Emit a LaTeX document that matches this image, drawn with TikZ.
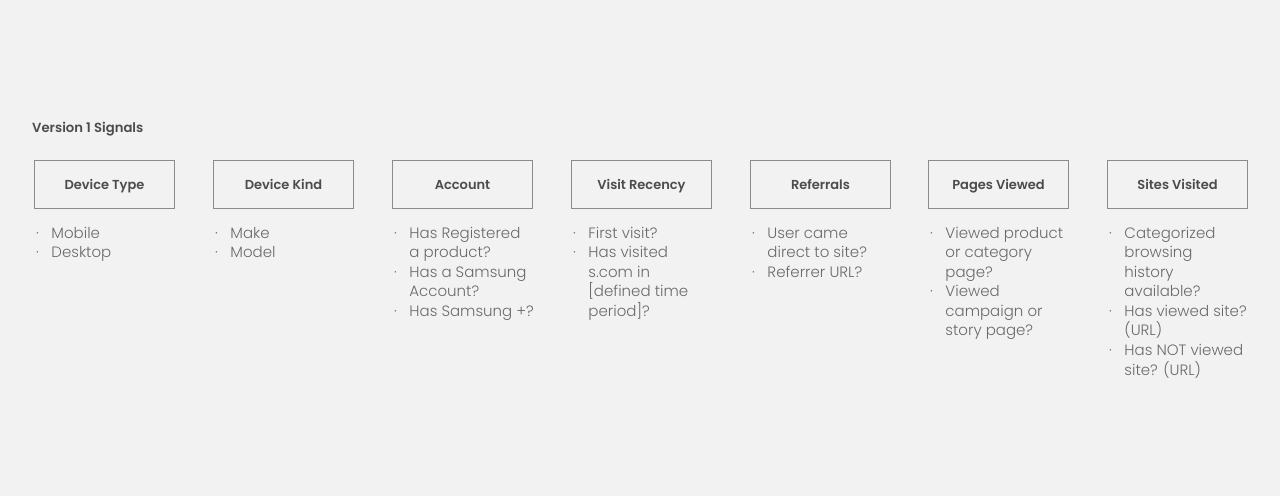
\documentclass[tikz,border=0pt]{standalone}
\usepackage{fontspec}
\setmainfont{Poppins}[BoldFont={Poppins SemiBold}]
\newfontfamily\lightfont{Poppins Light}
\usetikzlibrary{positioning}
\definecolor{canvas}{HTML}{F2F2F2}
\definecolor{frame}{HTML}{8C8C8C}
\definecolor{heading}{HTML}{4C4C4C}
\definecolor{bodytext}{HTML}{6A6A6A}
\newcommand{\signallist}[1]{\begin{tabular}[t]{@{}l@{\hspace{12.5pt}}l@{}}#1\end{tabular}}
\newcommand{\bul}{·}
\tikzset{
  signalbox/.style={draw=frame,fill=canvas,line width=1pt,anchor=north west,
                    minimum width=140pt,minimum height=48pt,inner sep=0pt,
                    text height=9.3pt,text depth=0pt,
                    font=\fontsize{13}{15}\selectfont\bfseries,text=heading},
  itemlist/.style={anchor=base west,inner sep=0pt,align=left,
                   font=\fontsize{15}{19.5}\selectfont\lightfont,text=bodytext},
  pagetitle/.style={anchor=base west,inner sep=0pt,
                    font=\fontsize{13.2}{16}\selectfont\bfseries,text=heading}
}

\begin{document}
\begin{tikzpicture}[x=1pt,y=-1pt]
  \path[use as bounding box,fill=canvas] (0,0) rectangle (1280,496);
  \node[pagetitle] (title) at (32,132) {Version 1 Signals};

  % signal boxes
  \node[signalbox] (devtype) at (34,160) {Device Type};
  \node[signalbox] (devkind) at (213,160) {Device Kind};
  \node[signalbox] (account) at (392,160) {Account};
  \node[signalbox] (recency) at (571,160) {Visit Recency};
  \node[signalbox] (referral) at (750,160) {Referrals};
  \node[signalbox] (pages) at (928,160) {Pages Viewed};
  \node[signalbox] (sites) at (1107,160) {Sites Visited};

  % bullet lists under the boxes
  \node[itemlist] (devtypelist) at (36,238) {\signallist{
      \bul & Mobile\\
      \bul & Desktop}};
  \node[itemlist] (devkindlist) at (215,238) {\signallist{
      \bul & Make\\
      \bul & Model}};
  \node[itemlist] (accountlist) at (394,238) {\signallist{
      \bul & Has Registered\\
           & a product?\\
      \bul & Has a Samsung\\
           & Account?\\
      \bul & Has Samsung +?}};
  \node[itemlist] (recencylist) at (573,238) {\signallist{
      \bul & First visit?\\
      \bul & Has visited\\
           & s.com in\\
           & [defined time\\
           & period]?}};
  \node[itemlist] (referrallist) at (752,238) {\signallist{
      \bul & User came\\
           & direct to site?\\
      \bul & Referrer URL?}};
  \node[itemlist] (pageslist) at (930,238) {\signallist{
      \bul & Viewed product\\
           & or category\\
           & page?\\
      \bul & Viewed\\
           & campaign or\\
           & story page?}};
  \node[itemlist] (siteslist) at (1109,238) {\signallist{
      \bul & Categorized\\
           & browsing\\
           & history\\
           & available?\\
      \bul & Has viewed site?\\
           & (URL)\\
      \bul & Has NOT viewed\\
           & site? (URL)}};
\end{tikzpicture}
\end{document}
